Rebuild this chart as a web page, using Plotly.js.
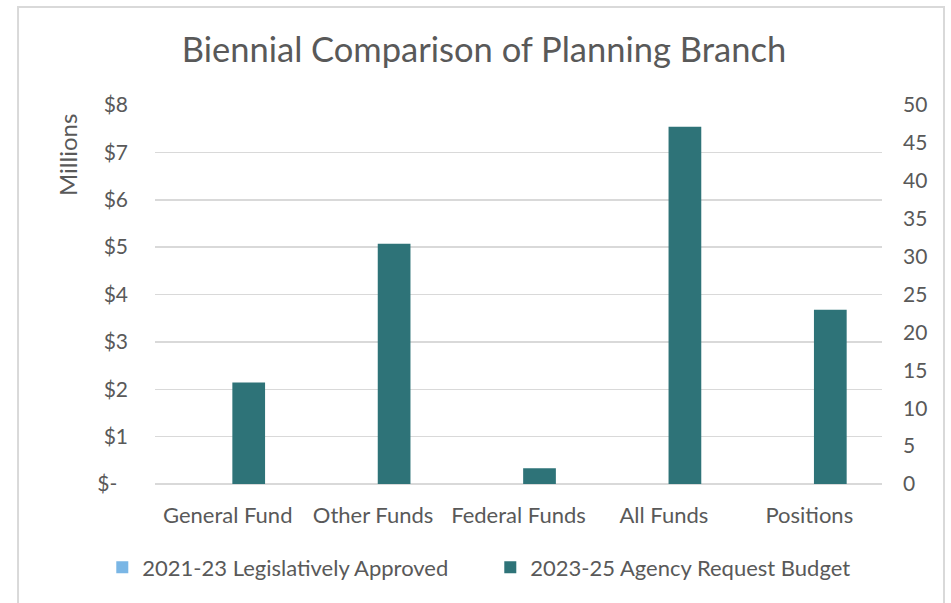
<!DOCTYPE html>
<html>
<head>
<meta charset="utf-8">
<script src="https://cdn.plot.ly/plotly-3.0.1.min.js"></script>
<style>html,body{margin:0;padding:0;background:#fff;}#chart{width:951px;height:603px;}</style>
</head>
<body>
<div id="chart"></div>
<script>
const categories = ['General Fund', 'Other Funds', 'Federal Funds', 'All Funds', 'Positions'];
const dollarCategories = ['General Fund', 'Other Funds', 'Federal Funds', 'All Funds'];
const positionCategory = ['Positions'];
const approved2123 = [0, 0, 0, 0];
const approved2123Positions = [0];
const request2325 = [2.14, 5.07, 0.33, 7.54];
const request2325Positions = [23];
const leftTickVals = [0, 1, 2, 3, 4, 5, 6, 7, 8];
const leftTickText = ['$-\u00a0\u00a0', '$1', '$2', '$3', '$4', '$5', '$6', '$7', '$8'];
const rightTickVals = [0, 5, 10, 15, 20, 25, 30, 35, 40, 45, 50];

const FONT = 'Lato, "Open Sans", sans-serif';
const TXT = '#595959';
const LIGHT = '#7AB6E5';
const TEAL = '#2E7378';
const BW = 0.225;

const data = [
  {type: 'bar', name: '2021-23 Legislatively Approved', x: dollarCategories, y: approved2123,
   marker: {color: LIGHT, line: {width: 0}}, width: BW, offset: -0.26, yaxis: 'y', legendrank: 1},
  {type: 'bar', name: '2023-25 Agency Request Budget', x: dollarCategories, y: request2325,
   marker: {color: TEAL, line: {width: 0}}, width: BW, offset: 0.032, yaxis: 'y', legendrank: 2},
  {type: 'bar', name: '2021-23 Legislatively Approved', x: positionCategory, y: approved2123Positions,
   marker: {color: LIGHT, line: {width: 0}}, width: BW, offset: -0.26, yaxis: 'y2', showlegend: false},
  {type: 'bar', name: '2023-25 Agency Request Budget', x: positionCategory, y: request2325Positions,
   marker: {color: TEAL, line: {width: 0}}, width: BW, offset: 0.032, yaxis: 'y2', showlegend: false}
];

const layout = {
  width: 951, height: 603,
  margin: {l: 155, r: 69, t: 105, b: 119, pad: 0},
  paper_bgcolor: '#fff', plot_bgcolor: '#fff',
  font: {family: FONT, color: TXT, size: 21},
  title: {text: 'Biennial Comparison of Planning Branch', font: {family: FONT, size: 34.5, color: TXT},
          x: 0.4525, xref: 'paper', xanchor: 'center', y: 0.917, yref: 'container', yanchor: 'middle'},
  showlegend: true,
  legend: {orientation: 'h', x: -0.0725, xanchor: 'left', y: -0.22, yanchor: 'middle', yref: 'paper',
           font: {family: FONT, size: 22, color: TXT}, traceorder: 'normal',
           entrywidth: 343, entrywidthmode: 'pixels', itemclick: false, bgcolor: 'rgba(0,0,0,0)'},
  xaxis: {type: 'category', categoryorder: 'array', categoryarray: categories, range: [-0.5, 4.5],
          showgrid: false, zeroline: false, showline: false, ticks: '', ticklabelstandoff: 16,
          tickfont: {family: FONT, size: 22, color: TXT}, fixedrange: true},
  yaxis: {range: [0, 8], tickvals: leftTickVals, ticktext: leftTickText, showgrid: true,
          gridcolor: '#D9D9D9', gridwidth: 1.5, zeroline: true, zerolinecolor: '#D9D9D9', zerolinewidth: 1.5,
          showline: false, ticks: '', ticklabelstandoff: 26, tickfont: {family: FONT, size: 21, color: TXT}, fixedrange: true},
  yaxis2: {range: [0, 50], tickvals: rightTickVals, overlaying: 'y', side: 'right', showgrid: false,
           zeroline: false, showline: false, ticks: '', ticklabelstandoff: 20,
           tickfont: {family: FONT, size: 21, color: TXT}, fixedrange: true},
  annotations: [{text: 'Millions', xref: 'paper', yref: 'paper', x: -0.121, y: 0.868, textangle: -90,
                 showarrow: false, xanchor: 'center', yanchor: 'middle', font: {family: FONT, size: 24, color: TXT}}],
  shapes: [{type: 'rect', xref: 'paper', yref: 'paper', x0: -0.1884, x1: 1.0853, y0: -0.34, y1: 1.2586,
            line: {color: '#D9D9D9', width: 2}, fillcolor: 'rgba(0,0,0,0)', layer: 'below'}]
};

Plotly.newPlot('chart', data, layout, {displayModeBar: false, staticPlot: true});
</script>
</body>
</html>
